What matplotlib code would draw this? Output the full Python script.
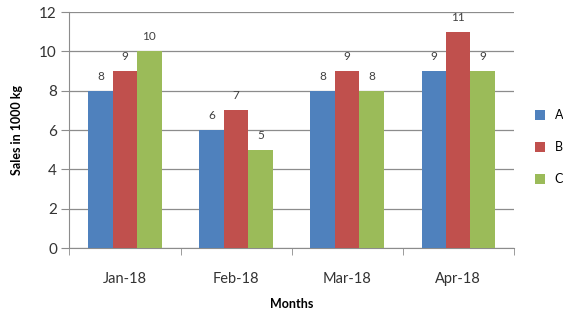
import numpy as np
import matplotlib.pyplot as plt

months = ['Jan-18', 'Feb-18', 'Mar-18', 'Apr-18']
series_names = ['A', 'B', 'C']
sales_a = [8, 6, 8, 9]
sales_b = [9, 7, 9, 11]
sales_c = [10, 5, 8, 9]
colors = ['#4F81BD', '#C0504D', '#9BBB59']

plt.rcParams['font.family'] = ['Lato', 'DejaVu Sans']

fig = plt.figure(figsize=(5.63, 3.2), dpi=100)
ax = fig.add_axes([0.1234, 0.225, 0.789, 0.7375])

x = np.arange(len(months))
w = 0.22
for i, (vals, name) in enumerate(zip([sales_a, sales_b, sales_c], series_names)):
    bars = ax.bar(x + (i - 1) * w, vals, w, color=colors[i], label=name, zorder=3)
    for b, v in zip(bars, vals):
        ax.text(b.get_x() + b.get_width() / 2, v + 0.45, str(v), ha='center',
                va='bottom', fontsize=8.5, color='#404040')

ax.set_xlim(-0.5, len(months) - 0.5)
ax.set_ylim(0, 12)
ax.set_yticks(range(0, 13, 2))
ax.yaxis.grid(True, color='#8c8c8c', linewidth=0.9, zorder=0)
ax.set_xticks(x)
ax.set_xticklabels(months, fontsize=10.5, color='#333333')
ax.set_xticks(np.arange(-0.5, len(months)), minor=True)
ax.tick_params(axis='x', which='major', length=0, pad=17)
ax.tick_params(axis='x', which='minor', length=5, color='#8c8c8c')
ax.tick_params(axis='y', length=6, color='#8c8c8c', labelsize=11, labelcolor='#333333', pad=3)
for s in ['top', 'right']:
    ax.spines[s].set_visible(False)
for s in ['left', 'bottom']:
    ax.spines[s].set_color('#8c8c8c')

ax.set_xlabel('Months', fontsize=9, fontweight='bold', labelpad=9)
ax.set_ylabel('Sales in 1000 kg', fontsize=9, fontweight='bold', labelpad=12)

fig.legend(loc='center left', bbox_to_anchor=(0.93, 0.54), frameon=False,
           fontsize=9, handlelength=0.8, handleheight=0.8, handletextpad=0.8,
           labelspacing=1.6)

fig.savefig('out.png', dpi=100)
